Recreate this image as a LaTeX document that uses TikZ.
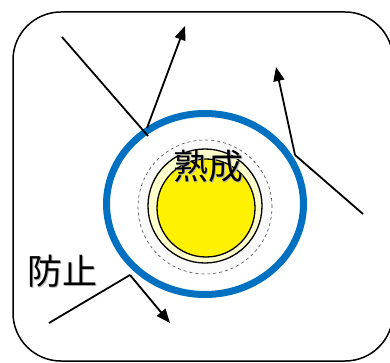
\documentclass[tikz,border=0pt]{standalone}
\usepackage{fontspec}
\newfontfamily\cjkfont{Noto Sans CJK JP}
\usetikzlibrary{arrows.meta,shapes.geometric}
\definecolor{ringblue}{HTML}{0070C0}
\definecolor{paleyellow}{HTML}{FFFFCC}
\begin{document}
\begin{tikzpicture}[x=1pt,y=-1pt,
  ray/.style={line width=1.8pt,black},
  rayarrow/.style={ray,-{Triangle[length=14pt,width=11pt]}},
  lbl/.style={font=\cjkfont\fontsize{35}{35}\selectfont,inner sep=0pt},
  shadowlbl/.style={lbl,text=black!30}]
\useasboundingbox (0,0) rectangle (390,363);
\begin{scope}
\clip (0,0) rectangle (390,363);
\draw[line width=1.5pt,rounded corners=48pt] (13,12) rectangle (393,361);
\end{scope}
% circles
\node[draw=ringblue,line width=7pt,ellipse,minimum width=197pt,minimum height=181pt,inner sep=0pt] (ring) at (205,204) {};
\node[draw=black!70,dashed,line width=0.6pt,circle,fill=black!2,minimum size=134pt,inner sep=0pt] (halo) at (205,207) {};
\node[draw=black,line width=1.3pt,circle,fill=paleyellow,minimum size=114pt,inner sep=0pt] (shell) at (205,206) {};
\node[draw=black,line width=1.3pt,circle,fill=yellow,minimum size=98pt,inner sep=0pt] (core) at (206,208) {};
% labels
\node[shadowlbl] at (209.5,167.5) {熟成};
\node[lbl] (juku) at (208,166) {熟成};
\node[shadowlbl] at (63.5,272.5) {防止};
\node[lbl] (boushi) at (62,271) {防止};
% rays
\coordinate (a1) at (62,37);
\coordinate (a2) at (148,136);
\coordinate (a3) at (147,128);
\coordinate (a4) at (185,26);
\draw[ray] (a1) -- (a2);
\draw[rayarrow] (a3) -- (a4);
\coordinate (b1) at (363,214);
\coordinate (b2) at (295,155);
\coordinate (b3) at (276,67);
\draw[ray] (b1) -- (b2);
\draw[rayarrow] (b2) -- (b3);
\coordinate (c1) at (49,323);
\coordinate (c2) at (130,275);
\coordinate (c3) at (170,323);
\draw[ray,line join=miter] (c1) -- (c2);
\draw[rayarrow] (c2) -- (c3);
\end{tikzpicture}
\end{document}
